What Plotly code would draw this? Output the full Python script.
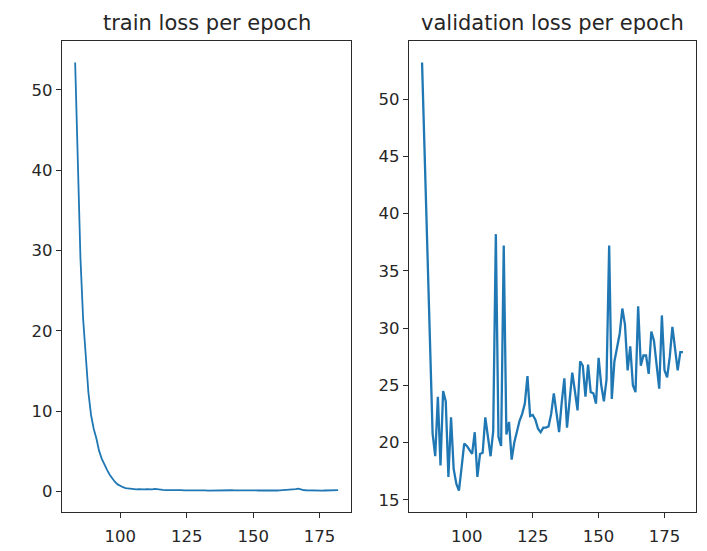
import plotly.graph_objects as go

epochs = list(range(83, 183))

train_loss = [
    53.4, 40.0, 29.0, 21.5, 16.5, 12.3, 9.5, 7.8, 6.6, 5.1,
    4.1, 3.3, 2.7, 2.1, 1.6, 1.2, 0.9, 0.7, 0.55, 0.45,
    0.4, 0.35,
    0.3, 0.28, 0.3, 0.25, 0.27, 0.3, 0.26, 0.28, 0.33, 0.27,
    0.24, 0.22, 0.2, 0.21, 0.2, 0.18, 0.19, 0.17, 0.18, 0.16,
    0.17, 0.15, 0.16, 0.14, 0.15, 0.13, 0.14, 0.15, 0.13, 0.14,
    0.15, 0.14, 0.16, 0.18, 0.2, 0.22, 0.19, 0.17, 0.15, 0.16,
    0.17, 0.18, 0.16, 0.15, 0.14, 0.16, 0.15, 0.14, 0.13, 0.15,
    0.16, 0.14, 0.13, 0.15, 0.14, 0.16, 0.18, 0.2, 0.21, 0.22,
    0.25, 0.3, 0.38, 0.26, 0.2, 0.17, 0.15, 0.14, 0.13, 0.14,
    0.15, 0.13, 0.14, 0.15, 0.14, 0.16, 0.17, 0.18,
]

val_loss = [
    53.2, 45.0, 37.0, 29.0, 20.8, 18.8, 24.0, 18.0, 24.5, 23.6,
    17.0, 22.2, 17.7, 16.4, 15.8, 17.8, 19.9, 19.7, 19.3, 19.0,
    20.9, 17.0, 19.0, 19.1, 22.2, 20.6, 18.8, 21.0, 38.2, 20.5,
    19.7, 37.2, 20.7, 21.8, 18.5, 20.0, 21.1, 21.9, 22.5, 23.4,
    25.8, 22.3, 22.4, 22.0, 21.2, 20.9, 21.3, 21.3, 21.4, 22.5,
    24.3, 22.5, 20.9, 23.5, 25.6, 21.3, 24.0, 26.1, 24.5, 22.8,
    27.1, 26.7, 24.0, 26.8, 24.4, 24.3, 23.4, 27.4, 25.0, 23.6,
    25.5, 37.2, 23.8, 27.1, 28.3, 29.5, 31.7, 30.3, 26.3, 28.4,
    25.0, 24.4, 31.9, 26.7, 27.6, 27.6, 26.0, 29.7, 28.9, 26.5,
    24.7, 31.1, 26.3, 25.7, 27.5, 30.1, 28.3, 26.3, 27.9, 27.9,
]

x_ticks = [100, 125, 150, 175]
train_y_ticks = [0, 10, 20, 30, 40, 50]
val_y_ticks = [15, 20, 25, 30, 35, 40, 45, 50]
titles = ["train loss per epoch", "validation loss per epoch"]

assert len(train_loss) == len(epochs) == len(val_loss)


def auto_range(vals, m=0.05):
    lo, hi = min(vals), max(vals)
    d = (hi - lo) * m
    return [lo - d, hi + d]


LINE = "#1f77b4"
FRAME = "#2b2b2b"
TXT = "#262626"

fig = go.Figure()
fig.add_trace(go.Scatter(x=epochs, y=train_loss, mode="lines",
                         line=dict(color=LINE, width=1.8), xaxis="x", yaxis="y",
                         showlegend=False))
fig.add_trace(go.Scatter(x=epochs, y=val_loss, mode="lines",
                         line=dict(color=LINE, width=2.3), xaxis="x2", yaxis="y2",
                         showlegend=False))

W, H = 707, 551
ml, mr, mt, mb = 61.7, 11.3, 41, 38.5
pw = W - ml - mr
d1 = [0, (351 - ml) / pw]
d2 = [(408.7 - ml) / pw, 1]

axis_common = dict(showgrid=False, zeroline=False, showline=True, mirror=True,
                   linecolor=FRAME, linewidth=1.4, ticks="outside", ticklen=5,
                   tickwidth=1.2, tickcolor=FRAME,
                   tickfont=dict(family="DejaVu Sans", size=16.5, color=TXT))

fig.update_layout(
    width=W, height=H,
    margin=dict(l=ml, r=mr, t=mt, b=mb, autoexpand=False),
    paper_bgcolor="white", plot_bgcolor="white",
    xaxis=dict(domain=d1, range=auto_range(epochs), tickvals=x_ticks, anchor="y",
               ticklabelstandoff=4, **axis_common),
    yaxis=dict(domain=[0, 1], range=auto_range(train_loss), tickvals=train_y_ticks, anchor="x", **axis_common),
    xaxis2=dict(domain=d2, range=auto_range(epochs), tickvals=x_ticks, anchor="y2",
                ticklabelstandoff=4, **axis_common),
    yaxis2=dict(domain=[0, 1], range=auto_range(val_loss), tickvals=val_y_ticks, anchor="x2", **axis_common),
)

for dom, t in zip([d1, d2], titles):
    fig.add_annotation(text=t, xref="paper", yref="paper", x=(dom[0] + dom[1]) / 2, y=1,
                       xanchor="center", yanchor="middle", yshift=18, showarrow=False,
                       font=dict(family="DejaVu Sans", size=21, color=TXT))

fig.write_html("out.html")
